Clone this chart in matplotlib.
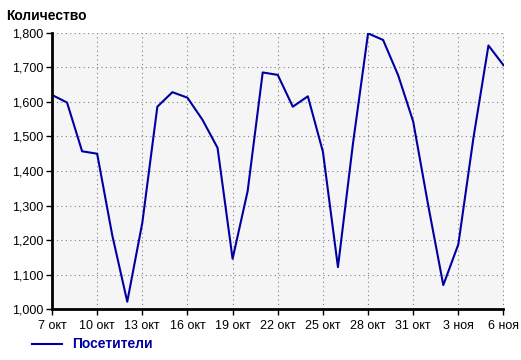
import numpy as np
import matplotlib
matplotlib.use('Agg')
import matplotlib.pyplot as plt
from matplotlib.ticker import FuncFormatter, MultipleLocator
from matplotlib.lines import Line2D

plt.rcParams['font.family'] = ['Liberation Sans', 'DejaVu Sans']

# === Data (one point per day, 7 Oct - 6 Nov) ===
days = np.arange(31)
visitors = [1620, 1598, 1457, 1450, 1215, 1022, 1250, 1586, 1628, 1612,
            1548, 1467, 1146, 1342, 1685, 1678, 1586, 1616, 1456, 1122,
            1480, 1798, 1779, 1677, 1543, 1300, 1070, 1188, 1495, 1763,
            1706]
tick_days = np.arange(0, 31, 3)
tick_labels = ['7 окт', '10 окт', '13 окт', '16 окт', '19 окт', '22 окт',
               '25 окт', '28 окт', '31 окт', '3 ноя', '6 ноя']

line_color = '#0000A0'

fig = plt.figure(figsize=(5.21, 3.60), dpi=100)
W, H = 521, 360
ax = fig.add_axes([52 / W, 1 - 309.3 / H, (503.5 - 52) / W, (309.3 - 32.7) / H])
ax.set_facecolor('#F5F5F5')

ax.plot(days, visitors, color=line_color, linewidth=1.5)

ax.set_xlim(0, 30)
ax.set_ylim(1000, 1800)
ax.yaxis.set_major_locator(MultipleLocator(100))
ax.yaxis.set_major_formatter(FuncFormatter(lambda v, p: '{:,.0f}'.format(v)))
ax.set_xticks(tick_days)
ax.set_xticklabels(tick_labels)

ax.grid(True, color='#808080', linestyle=(0, (1, 3)), linewidth=0.8)
ax.set_axisbelow(True)
for s in ['top', 'right']:
    ax.spines[s].set_visible(False)
for s in ['left', 'bottom']:
    ax.spines[s].set_linewidth(2)
    ax.spines[s].set_color('black')
ax.tick_params(axis='both', direction='out', length=4, width=1,
               labelsize=9, colors='black', pad=2)
ax.tick_params(axis='x', pad=4)

fig.text(6 / W, 1 - 16 / H, 'Количество', fontsize=10, fontweight='bold',
         va='center', ha='left')

# legend at bottom
fig.add_artist(Line2D([32 / W, 62 / W], [1 - 344 / H, 1 - 344 / H],
                      color=line_color, linewidth=1.5))
fig.text(72 / W, 1 - 344 / H, 'Посетители', fontsize=10, fontweight='bold',
         color=line_color, va='center', ha='left')

fig.savefig('out.png', dpi=100)
